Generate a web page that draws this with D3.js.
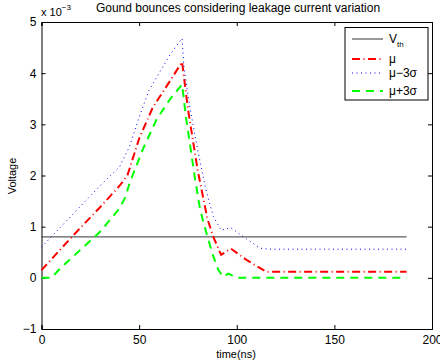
<!DOCTYPE html>
<head>
  <meta charset="utf-8">
  <script src="https://d3js.org/d3.v7.min.js"></script>
  <style>
    body { margin:0; padding:0; background:#fff; }
    text { font-family: "Liberation Sans", Arial, sans-serif; }
  </style>
</head>
<body>
  <svg id="chart" width="440" height="364"></svg>
  <script>
    // values shown in units of 1e-3 V
    var vth = 0.8;
    var vthX = [0, 187];

    var muX = [0, 10, 20, 30, 40, 44, 50, 57, 65, 72, 75, 80, 85, 88, 92, 97, 105, 115, 187];
    var muY = [0.15, 0.57, 0.98, 1.38, 1.8, 2.0, 2.72, 3.33, 3.8, 4.22, 3.3, 2.1, 1.15, 0.8, 0.45, 0.57, 0.35, 0.12, 0.12];

    var loX = [0, 10, 20, 30, 40, 45, 50, 55, 61, 66, 72, 73, 76, 80, 84, 88, 92, 97, 105, 112, 116, 187];
    var loY = [0.6, 1.0, 1.4, 1.8, 2.17, 2.56, 3.14, 3.66, 4.05, 4.37, 4.68, 4.1, 3.33, 2.5, 1.75, 1.2, 0.93, 0.98, 0.76, 0.58, 0.56, 0.56];

    var hiX = [0, 5, 10, 20, 30, 40, 43, 45, 52, 59, 66, 72, 74, 76, 78.5, 81, 83, 85.5, 88, 90.5, 93, 95.6, 100.5, 187];
    var hiY = [0, 0, 0.2, 0.55, 0.9, 1.36, 1.58, 1.84, 2.52, 3.1, 3.5, 3.78, 3.14, 2.62, 1.97, 1.39, 1.07, 0.74, 0.42, 0.16, 0.02, 0.08, 0, 0];

    var xTicks = [0, 50, 100, 150, 200];
    var yTicks = [-1, 0, 1, 2, 3, 4, 5];

    var svg = d3.select("#chart");
    var x = d3.scaleLinear().domain([0, 200]).range([41.5, 432]);
    var y = d3.scaleLinear().domain([-1, 5]).range([329, 22]);

    var line = d3.line().x(function(d){ return x(d[0]); }).y(function(d){ return y(d[1]); });
    function pts(xs, ys) { return xs.map(function(v, i){ return [v, ys[i]]; }); }

    // axes (box with inner ticks)
    var tickFmt = d3.format("d");
    svg.append("g").attr("transform", "translate(0," + y(-1) + ")")
      .call(d3.axisBottom(x).tickValues(xTicks).tickSize(-4).tickPadding(6).tickFormat(tickFmt));
    svg.append("g").attr("transform", "translate(0," + y(5) + ")")
      .call(d3.axisTop(x).tickValues(xTicks).tickSize(-4).tickFormat(""));
    svg.append("g").attr("transform", "translate(" + x(0) + ",0)")
      .call(d3.axisLeft(y).tickValues(yTicks).tickSize(-4).tickPadding(5).tickFormat(function(d){ return d < 0 ? "\u2212" + (-d) : d; }));
    svg.append("g").attr("transform", "translate(" + x(200) + ",0)")
      .call(d3.axisRight(y).tickValues(yTicks).tickSize(-4).tickFormat(""));
    svg.selectAll(".domain").attr("stroke", "#000").attr("stroke-width", 1);
    svg.selectAll(".tick line").attr("stroke", "#000");
    svg.selectAll(".tick text").attr("font-size", 12).attr("fill", "#000")
      .attr("font-family", "Liberation Sans, Arial, sans-serif");

    // series
    svg.append("path").datum(pts(vthX, [vth, vth])).attr("d", line)
      .attr("fill", "none").attr("stroke", "#333").attr("stroke-width", 1);
    svg.append("path").datum(pts(muX, muY)).attr("d", line)
      .attr("fill", "none").attr("stroke", "#ff0000").attr("stroke-width", 2)
      .attr("stroke-dasharray", "8,3.5,1,3.5");
    svg.append("path").datum(pts(loX, loY)).attr("d", line)
      .attr("fill", "none").attr("stroke", "#0000ff").attr("stroke-width", 1)
      .attr("stroke-dasharray", "1,3.5");
    svg.append("path").datum(pts(hiX, hiY)).attr("d", line)
      .attr("fill", "none").attr("stroke", "#00ff00").attr("stroke-width", 2)
      .attr("stroke-dasharray", "8,6");

    // exponent label
    var ex = svg.append("text").attr("x", 41).attr("y", 16).attr("font-size", 11);
    ex.append("tspan").text("x 10");
    ex.append("tspan").attr("dy", -6).attr("font-size", 8).text("\u22123");

    // title and axis labels
    svg.append("text").attr("x", 238).attr("y", 12).attr("text-anchor", "middle")
      .attr("font-size", 12).text("Gound bounces considering leakage current variation");
    svg.append("text").attr("x", 236).attr("y", 358).attr("text-anchor", "middle")
      .attr("font-size", 11).text("time(ns)");
    svg.append("text").attr("transform", "translate(16,176) rotate(-90)")
      .attr("text-anchor", "middle").attr("font-size", 11).text("Voltage");

    // legend
    var lg = svg.append("g");
    lg.append("rect").attr("x", 345).attr("y", 27.5).attr("width", 83).attr("height", 72.5)
      .attr("fill", "#fff").attr("stroke", "#000").attr("stroke-width", 1);
    var items = [
      {c: "#333", w: 1, d: null, y: 39},
      {c: "#ff0000", w: 2, d: "8,3.5,1,3.5", y: 59, t: "\u03bc"},
      {c: "#0000ff", w: 1, d: "1,3.5", y: 73, t: "\u03bc\u22123\u03c3"},
      {c: "#00ff00", w: 2, d: "8,6", y: 91, t: "\u03bc+3\u03c3"}
    ];
    items.forEach(function(it){
      lg.append("line").attr("x1", 352).attr("x2", 383).attr("y1", it.y).attr("y2", it.y)
        .attr("stroke", it.c).attr("stroke-width", it.w).attr("stroke-dasharray", it.d);
    });
    var vt = lg.append("text").attr("x", 389).attr("y", 43).attr("font-size", 12);
    vt.append("tspan").text("V");
    vt.append("tspan").attr("dy", 4).attr("font-size", 8).text("th");
    items.slice(1).forEach(function(it){
      lg.append("text").attr("x", 389).attr("y", it.y + 4).attr("font-size", 12).text(it.t);
    });
  </script>
</body>
